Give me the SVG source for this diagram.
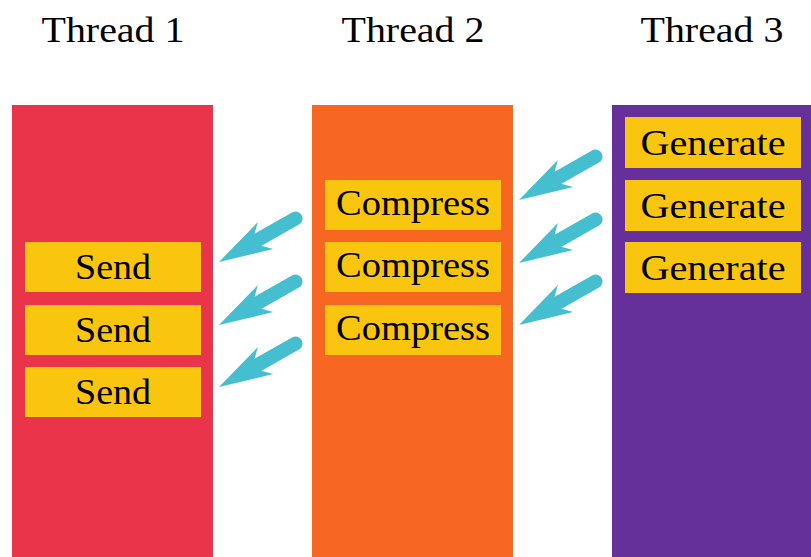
<svg xmlns="http://www.w3.org/2000/svg" xmlns:xlink="http://www.w3.org/1999/xlink" width="811" height="557" viewBox="0 0 811 557">
  <style>
    text { font-family: 'Liberation Serif', 'Times New Roman', 'DejaVu Serif', serif; fill: #000; text-anchor: middle; }
    .title { font-size: 36px; }
    .label { font-size: 35px; }
    .task { fill: #F9C50E; }
    .shaft { stroke: #45BFCF; stroke-width: 14; stroke-linecap: round; fill: none; }
    .head { fill: #45BFCF; }
  </style>
  <defs>
    <!-- stealth-style arrow pointing along +x, tip at the origin -->
    <g id="arrow">
      <line class="shaft" x1="-44" y1="0" x2="-88" y2="0"/>
      <path class="head" d="M0,0 L-53.5,-15.5 L-38,0 L-53.5,15.5 Z"/>
    </g>
  </defs>
  <rect width="811" height="557" fill="#FFFFFF"/>

  <!-- thread columns -->
  <g id="thread1">
    <text class="title" x="113" y="42" textLength="143" lengthAdjust="spacingAndGlyphs">Thread 1</text>
    <rect x="12" y="105" width="201" height="452" fill="#E9344A"/>
  </g>
  <g id="thread2">
    <text class="title" x="413" y="42" textLength="143" lengthAdjust="spacingAndGlyphs">Thread 2</text>
    <rect x="312" y="105" width="201" height="452" fill="#F76722"/>
  </g>
  <g id="thread3">
    <text class="title" x="712" y="42" textLength="143" lengthAdjust="spacingAndGlyphs">Thread 3</text>
    <rect x="612" y="105" width="199" height="452" fill="#66309A"/>
  </g>

  <!-- tasks on thread 1 -->
  <g id="send1"><rect class="task" x="25" y="242" width="176" height="50"/><text class="label" x="113" y="279" textLength="76" lengthAdjust="spacingAndGlyphs">Send</text></g>
  <g id="send2"><rect class="task" x="25" y="305" width="176" height="50"/><text class="label" x="113" y="342" textLength="76" lengthAdjust="spacingAndGlyphs">Send</text></g>
  <g id="send3"><rect class="task" x="25" y="367" width="176" height="50"/><text class="label" x="113" y="404" textLength="76" lengthAdjust="spacingAndGlyphs">Send</text></g>

  <!-- tasks on thread 2 -->
  <g id="compress1"><rect class="task" x="325" y="180" width="176" height="50"/><text class="label" x="413" y="215" textLength="154" lengthAdjust="spacingAndGlyphs">Compress</text></g>
  <g id="compress2"><rect class="task" x="325" y="242" width="176" height="50"/><text class="label" x="413" y="277" textLength="154" lengthAdjust="spacingAndGlyphs">Compress</text></g>
  <g id="compress3"><rect class="task" x="325" y="305" width="176" height="50"/><text class="label" x="413" y="340" textLength="154" lengthAdjust="spacingAndGlyphs">Compress</text></g>

  <!-- tasks on thread 3 -->
  <g id="generate1"><rect class="task" x="625" y="117" width="176" height="51"/><text class="label" x="713" y="155" textLength="145" lengthAdjust="spacingAndGlyphs">Generate</text></g>
  <g id="generate2"><rect class="task" x="625" y="180" width="176" height="51"/><text class="label" x="713" y="218" textLength="145" lengthAdjust="spacingAndGlyphs">Generate</text></g>
  <g id="generate3"><rect class="task" x="625" y="242" width="176" height="51"/><text class="label" x="713" y="280" textLength="145" lengthAdjust="spacingAndGlyphs">Generate</text></g>

  <!-- hand-off arrows between threads -->
  <g id="connectors">
    <use xlink:href="#arrow" transform="translate(519,200) rotate(150.4)"/>
    <use xlink:href="#arrow" transform="translate(519,263) rotate(150.4)"/>
    <use xlink:href="#arrow" transform="translate(519,325) rotate(150.4)"/>
    <use xlink:href="#arrow" transform="translate(219,262) rotate(150.4)"/>
    <use xlink:href="#arrow" transform="translate(219,325) rotate(150.4)"/>
    <use xlink:href="#arrow" transform="translate(219,387) rotate(150.4)"/>
  </g>
</svg>
